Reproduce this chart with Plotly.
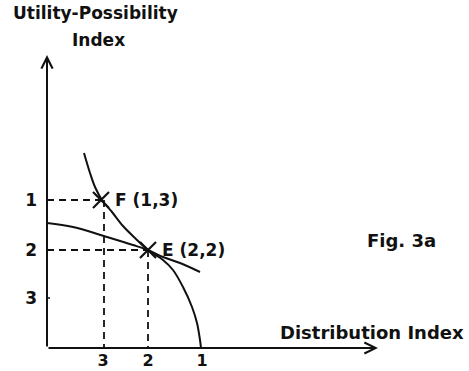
import plotly.graph_objects as go

# ---- data (units: index scale, origin at axes corner) ----
curve1_x = [0.74, 0.86, 0.96, 1.10, 1.30, 1.52, 1.76, 2.02, 2.32, 2.52, 2.72, 2.90, 3.00, 3.06, 3.08]
curve1_y = [3.90, 3.50, 3.22, 2.96, 2.72, 2.44, 2.20, 1.96, 1.76, 1.56, 1.22, 0.82, 0.50, 0.16, 0.00]
curve2_x = [0.00, 0.52, 1.20, 1.72, 2.02, 2.32, 2.66, 3.06]
curve2_y = [2.50, 2.42, 2.22, 2.06, 1.96, 1.82, 1.70, 1.52]
point_names = ["F (1,3)", "E (2,2)"]
point_x = [1.08, 2.02]
point_y = [2.96, 1.96]
drop_x = [1.14, 2.02]
xtick_vals = [1.12, 2.02, 3.10]
xtick_text = ["3", "2", "1"]
ytick_vals = [2.96, 1.96, 1.00]
ytick_text = ["1", "2", "3"]

FONT = "DejaVu Sans"
fs = 17
BLACK = "#111111"

fig = go.Figure()

fig.add_trace(go.Scatter(x=curve1_x, y=curve1_y, mode="lines",
                         line=dict(color=BLACK, width=2, shape="spline", smoothing=1.0),
                         cliponaxis=False, hoverinfo="skip"))
fig.add_trace(go.Scatter(x=curve2_x, y=curve2_y, mode="lines",
                         line=dict(color=BLACK, width=2, shape="spline", smoothing=1.0),
                         cliponaxis=False, hoverinfo="skip"))

# dashed guide lines
for px_, dx, py_ in zip(point_x, drop_x, point_y):
    fig.add_trace(go.Scatter(x=[0, px_], y=[py_, py_], mode="lines",
                             line=dict(color=BLACK, width=1.8, dash="7px,5px"),
                             hoverinfo="skip"))
    fig.add_trace(go.Scatter(x=[dx, dx], y=[py_, 0], mode="lines",
                             line=dict(color=BLACK, width=1.8, dash="7px,5px"),
                             hoverinfo="skip"))

# X marks
fig.add_trace(go.Scatter(x=point_x, y=point_y, mode="markers",
                         marker=dict(symbol="x-thin-open", size=16, color=BLACK,
                                     line=dict(color=BLACK, width=2.2)),
                         cliponaxis=False, hoverinfo="skip"))
for name, px_, py_ in zip(point_names, point_x, point_y):
    fig.add_annotation(x=px_, y=py_, xref="x", yref="y", text=name, showarrow=False,
                       xanchor="left", xshift=12, font=dict(family=FONT, size=fs, color=BLACK))

# axes with arrowheads
fig.add_annotation(x=0, y=5.86, ax=0, ay=0, xref="x", yref="y", axref="x", ayref="y",
                   text="", showarrow=True, arrowhead=5, arrowsize=1.1, arrowwidth=2,
                   arrowcolor=BLACK)
fig.add_annotation(x=6.62, y=0, ax=0, ay=0, xref="x", yref="y", axref="x", ayref="y",
                   text="", showarrow=True, arrowhead=5, arrowsize=1.1, arrowwidth=2,
                   arrowcolor=BLACK)
# small tick at y "3"
fig.add_shape(type="line", x0=-0.08, x1=0.06, y0=1.0, y1=1.0, xref="x", yref="y",
              line=dict(color=BLACK, width=1.5))

# texts
fig.add_annotation(x=0.96, y=6.70, xref="x", yref="y", text="Utility-Possibility",
                   showarrow=False, font=dict(family=FONT, size=fs, color=BLACK))
fig.add_annotation(x=1.02, y=6.16, xref="x", yref="y", text="Index",
                   showarrow=False, font=dict(family=FONT, size=fs, color=BLACK))
fig.add_annotation(x=4.62, y=0.32, xref="x", yref="y", text="Distribution Index",
                   xanchor="left", showarrow=False, font=dict(family=FONT, size=fs + 1, color=BLACK))
fig.add_annotation(x=6.36, y=2.16, xref="x", yref="y", text="Fig. 3a",
                   xanchor="left", showarrow=False, font=dict(family=FONT, size=fs + 1, color=BLACK))

fig.update_layout(
    width=469, height=371,
    margin=dict(l=47, r=0, t=0, b=23, pad=0),
    paper_bgcolor="white", plot_bgcolor="white",
    showlegend=False,
    font=dict(family=FONT, size=fs, color=BLACK, weight="bold"),
    xaxis=dict(range=[0, 8.44], showgrid=False, zeroline=False, showline=False,
               tickvals=xtick_vals, ticktext=xtick_text, ticks="", automargin=False,
               ticklabelstandoff=1,
               tickfont=dict(family=FONT, size=fs - 1, color=BLACK, weight="bold")),
    yaxis=dict(range=[0, 6.96], showgrid=False, zeroline=False, showline=False,
               tickvals=ytick_vals, ticktext=ytick_text, ticks="", ticklabelstandoff=9,
               automargin=False,
               tickfont=dict(family=FONT, size=fs, color=BLACK, weight="bold")),
)
fig.update_annotations(font_weight="bold")

fig.write_html("out.html", config={"displayModeBar": False},
               post_script="document.body.style.margin='0';")
